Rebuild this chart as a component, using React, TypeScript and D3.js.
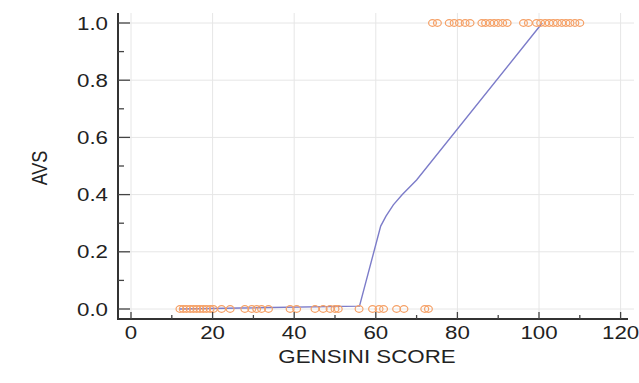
import React from 'react';
import * as d3 from 'd3';

const zeroX = [12.0, 12.8, 13.6, 14.5, 15.3, 16.1, 16.9, 17.7, 18.5, 19.4, 20.2, 22.2, 24.3, 27.9, 29.6, 30.8, 32.0, 33.7, 39.0, 40.6, 45.1, 47.1, 48.8, 50.0, 50.8, 55.9, 59.2, 60.8, 61.9, 65.1, 66.9, 72.0, 72.9];
const oneX = [73.9, 75.1, 78.0, 79.2, 80.5, 81.9, 83.1, 86.0, 86.9, 88.0, 89.0, 90.0, 91.1, 92.2, 96.2, 97.4, 99.4, 100.4, 101.5, 102.5, 103.5, 104.5, 105.6, 106.6, 107.6, 108.8, 110.0];
const fitX = [12.0, 56.0, 61.2, 62.5, 64.3, 66.5, 70.0, 100.8];
const fitY = [0.0, 0.01, 0.29, 0.325, 0.364, 0.4, 0.451, 1.0];
const xTicks = [0, 20, 40, 60, 80, 100, 120];
const xMinor = [10, 30, 50, 70, 90, 110];
const yTicks = [0, 0.2, 0.4, 0.6, 0.8, 1.0];
const yMinor = [0.1, 0.3, 0.5, 0.7, 0.9];
const xTitle = 'GENSINI SCORE';
const yTitle = 'AVS';

const W = 639;
const H = 383;
const SX = 1.24;
const FONT = 'Liberation Sans, Arial, sans-serif';

export default function App() {
  const x = d3.scaleLinear().domain([0, 120]).range([131, 620.6]);
  const y = d3.scaleLinear().domain([0, 1]).range([309, 23]);
  const axisX = 118;
  const axisY = 319;
  const top = 13;
  const right = 628;
  const line = d3.line<number>().x((d, i) => x(fitX[i])).y((d, i) => y(fitY[i]));
  const fitPath = line(fitX) || '';
  const txt = '#222';
  return (
    <svg width={W} height={H} style={{ position: 'absolute', left: 0, top: 0, background: '#fff' }}>
      <rect x={0} y={0} width={W} height={H} fill="#fff" />
      {xTicks.map((t) => (
        <line key={'gx' + t} x1={x(t)} x2={x(t)} y1={top} y2={axisY} stroke="#e6e6e6" strokeWidth={1} />
      ))}
      {yTicks.map((t) => (
        <line key={'gy' + t} x1={axisX} x2={right + 6} y1={y(t)} y2={y(t)} stroke="#e6e6e6" strokeWidth={1} />
      ))}
      <path d={fitPath} fill="none" stroke="#7c7cc9" strokeWidth={1.4} />
      {zeroX.map((v, i) => (
        <ellipse key={'z' + i} cx={x(v)} cy={y(0)} rx={3.9} ry={3.3} fill="none" stroke="#f5a066" strokeWidth={1.2} />
      ))}
      {oneX.map((v, i) => (
        <ellipse key={'o' + i} cx={x(v)} cy={y(1)} rx={3.9} ry={3.3} fill="none" stroke="#f5a066" strokeWidth={1.2} />
      ))}
      <line x1={axisX} x2={axisX} y1={top} y2={axisY} stroke="#333" strokeWidth={2} />
      <line x1={axisX - 1} x2={right} y1={axisY} y2={axisY} stroke="#333" strokeWidth={2} />
      {yTicks.map((t) => (
        <line key={'ty' + t} x1={axisX} x2={axisX + 12} y1={y(t)} y2={y(t)} stroke="#444" strokeWidth={1.3} />
      ))}
      {yMinor.map((t) => (
        <line key={'tym' + t} x1={axisX} x2={axisX + 6} y1={y(t)} y2={y(t)} stroke="#444" strokeWidth={1.3} />
      ))}
      {xTicks.map((t) => (
        <line key={'tx' + t} x1={x(t)} x2={x(t)} y1={axisY} y2={axisY - 7} stroke="#444" strokeWidth={1.3} />
      ))}
      {xMinor.map((t) => (
        <line key={'txm' + t} x1={x(t)} x2={x(t)} y1={axisY} y2={axisY - 4} stroke="#444" strokeWidth={1.3} />
      ))}
      {yTicks.map((t) => (
        <text key={'ly' + t} transform={`translate(${108},${y(t) + 6.5}) scale(${SX},1)`} textAnchor="end" fontFamily={FONT} fontSize={18} fill={txt}>
          {d3.format('.1f')(t)}
        </text>
      ))}
      {xTicks.map((t) => (
        <text key={'lx' + t} transform={`translate(${x(t)},${339}) scale(${SX},1)`} textAnchor="middle" fontFamily={FONT} fontSize={18} fill={txt}>
          {String(t)}
        </text>
      ))}
      <text transform={`translate(${367},${363}) scale(${SX},1)`} textAnchor="middle" fontFamily={FONT} fontSize={18} fill={txt}>
        {xTitle}
      </text>
      <text transform={`translate(${47},${168}) scale(${SX},1) rotate(-90)`} textAnchor="middle" fontFamily={FONT} fontSize={18} fill={txt}>
        {yTitle}
      </text>
    </svg>
  );
}
